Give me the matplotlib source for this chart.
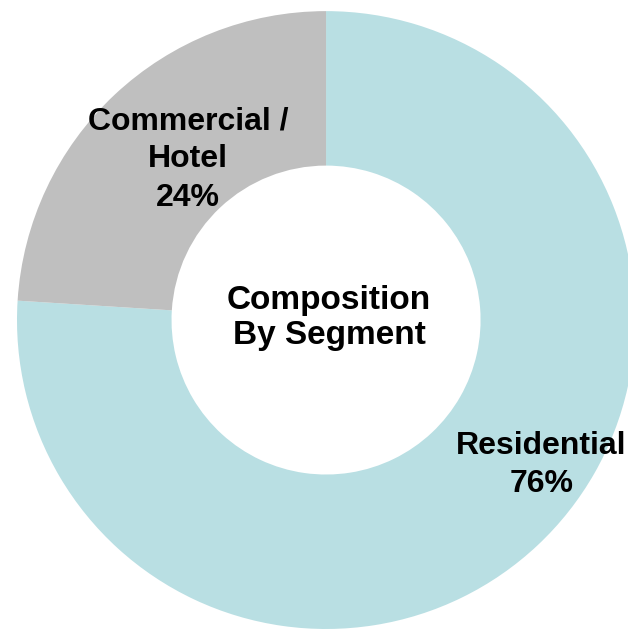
import matplotlib
matplotlib.use('Agg')
import matplotlib.pyplot as plt

# segment shares
segments = ['Residential', 'Commercial /\nHotel']
shares = [76, 24]
colors = ['#B9DFE3', '#BFBFBF']
center_title = 'Composition\nBy Segment'

plt.rcParams['font.family'] = ['Liberation Sans', 'DejaVu Sans']

fig = plt.figure(figsize=(6.28, 6.33), dpi=100)
ax = fig.add_axes([0, 0, 1, 1])

# donut, starting at 12 o'clock and running clockwise
wedges, _ = ax.pie(shares, colors=colors, startangle=90, counterclock=False,
                   radius=1.0, wedgeprops=dict(width=0.5, edgecolor='none'))

# label positions inside each ring segment
label_pos = [(0.696, -0.47), (-0.446, 0.52)]
for name, val, (x, y) in zip(segments, shares, label_pos):
    ax.text(x, y, f'{name}\n{val}%', ha='center', va='center',
            fontsize=23, fontweight='bold', linespacing=1.36, color='black')

ax.text(0.01, 0.006, center_title, ha='center', va='center',
        fontsize=24, fontweight='bold', linespacing=1.15, color='black')

ax.set_xlim(-1.055, 0.977)
ax.set_ylim(-1.013, 1.036)
ax.set_aspect('auto')
ax.axis('off')

plt.savefig('out.png', dpi=100)
